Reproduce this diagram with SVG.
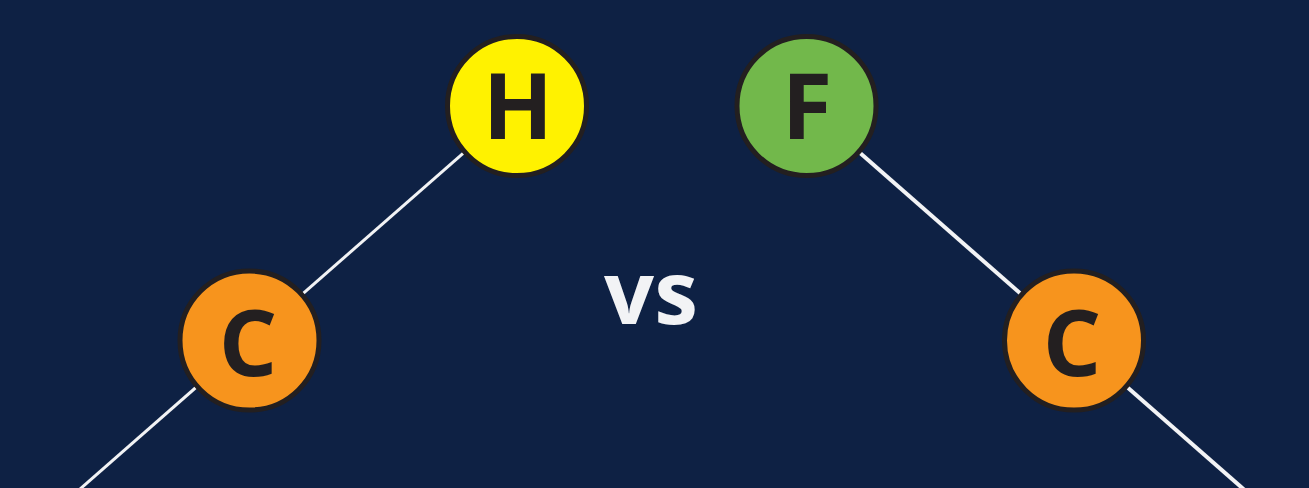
<svg xmlns="http://www.w3.org/2000/svg" width="1309" height="488" viewBox="0 0 1309 488">
<style>
.node{stroke:#231f20;stroke-width:5}
.lbl{font-family:"Open Sans","DejaVu Sans",sans-serif;font-weight:700;font-size:92px;fill:#231f20;text-anchor:middle}
.edge{stroke:#f2f3f5;fill:none}
</style>
<rect width="1309" height="488" fill="#0e2144"/>
<g id="connectors">
<line class="edge" x1="517" y1="106" x2="249.5" y2="340.5" stroke-width="3"/>
<line class="edge" x1="249.5" y1="340.5" x2="-18" y2="575" stroke-width="3"/>
<line class="edge" x1="806.5" y1="106" x2="1074" y2="340.5" stroke-width="4"/>
<line class="edge" x1="1074" y1="340.5" x2="1341.5" y2="575" stroke-width="4"/>
</g>
<g id="node-H">
<circle class="node" cx="517" cy="106" r="69.5" fill="#fff200"/>
<text class="lbl" x="518" y="139">H</text>
</g>
<g id="node-F">
<circle class="node" cx="806.5" cy="106" r="69.5" fill="#72b84b"/>
<text class="lbl" x="807" y="139">F</text>
</g>
<g id="node-C-left">
<circle class="node" cx="249.5" cy="340.5" r="69.5" fill="#f7941d"/>
<text class="lbl" x="248" y="376">C</text>
</g>
<g id="node-C-right">
<circle class="node" cx="1074" cy="340.5" r="69.5" fill="#f7941d"/>
<text class="lbl" x="1072" y="376">C</text>
</g>
<g id="vs">
<text x="651" y="324" font-family="'Open Sans','DejaVu Sans',sans-serif" font-weight="700" font-size="88" fill="#f2f3f5" text-anchor="middle">vs</text>
</g>
</svg>
